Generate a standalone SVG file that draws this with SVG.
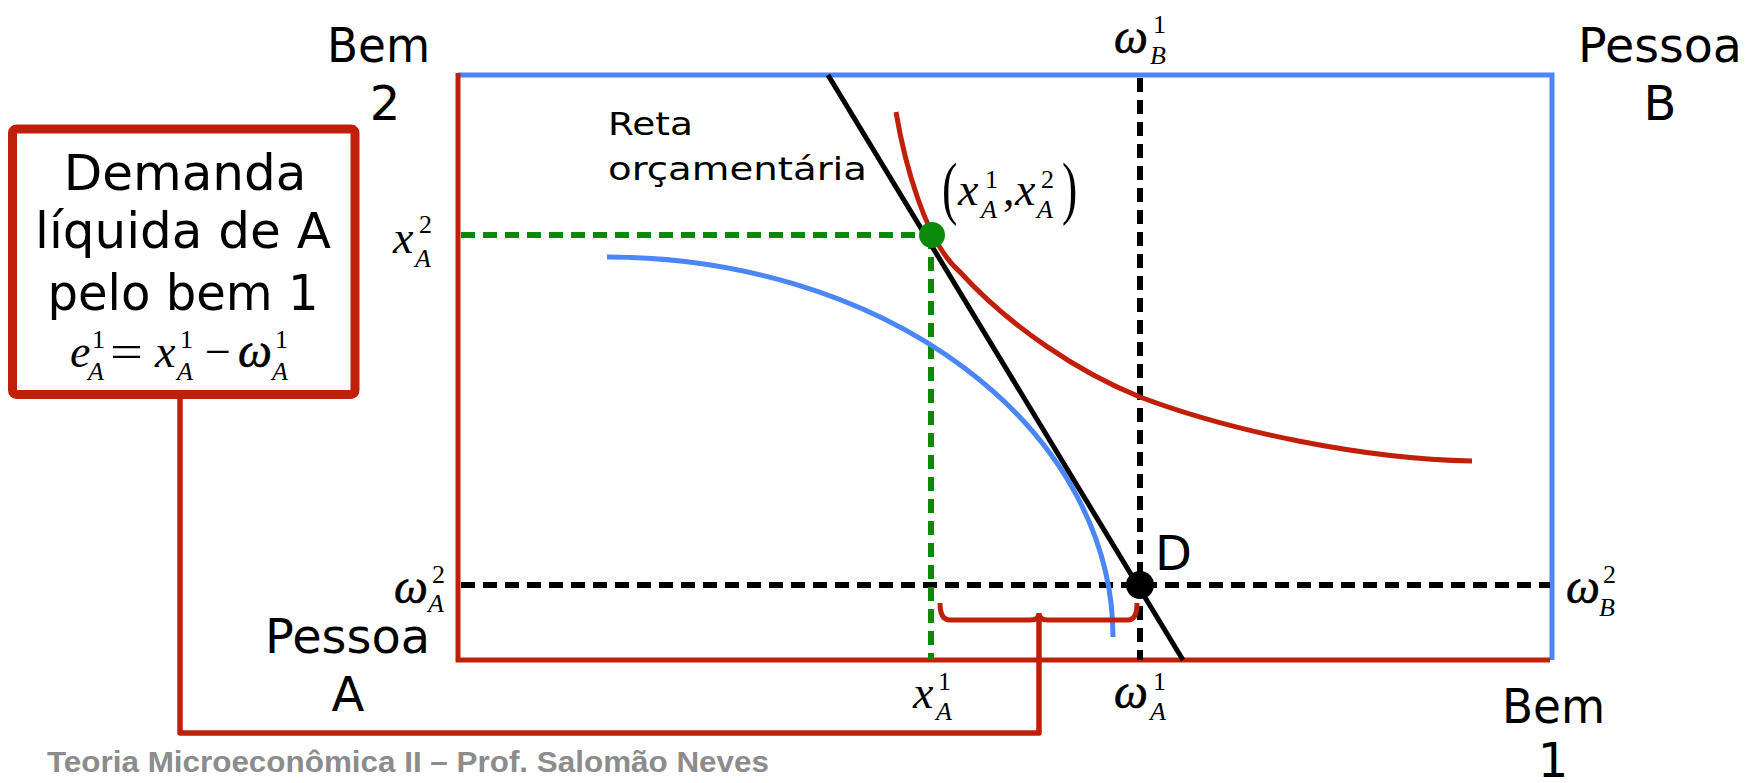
<svg xmlns="http://www.w3.org/2000/svg" width="1748" height="783" viewBox="0 0 1748 783">
<defs>
<style>
.lbl{font-family:"DejaVu Sans","Liberation Sans",sans-serif;fill:#000}
.m{font-family:"Liberation Serif","Times New Roman",serif;fill:#000}
.mi{font-family:"Liberation Serif","Times New Roman",serif;font-style:italic;fill:#000}
.big{font-size:46px}
.w{font-size:48px;stroke:#000;stroke-width:0.6}
.sc{font-size:26px}
.red{stroke:#C0200A;fill:none}
.blue{stroke:#4A86F6;fill:none}
.dashk{stroke:#000;stroke-width:6;stroke-dasharray:14 8;fill:none}
.dashg{stroke:#0A8A0A;stroke-width:6;stroke-dasharray:14 8;fill:none}
</style>
</defs>
<rect width="1748" height="783" fill="#fff"/>

<g id="axes">
<path class="blue" stroke-width="5" d="M458,75 H1552 V660"/>
<path class="red" stroke-width="5" d="M458,73 V660 H1550"/>
</g>

<g id="guides">
<path class="dashk" d="M1140,78 V660"/>
<path class="dashk" d="M461,585 H1550"/>
<path class="dashg" d="M461,235 H931"/>
<path class="dashg" d="M931,235 V660"/>
</g>

<g id="curves">
<path id="curveB" class="blue" stroke-width="5" d="M607,257 A506,380 0 0 1 1113,637"/>
<path id="budget" stroke="#000" stroke-width="5" fill="none" d="M828,75 L1183,660"/>
<path id="curveA" class="red" stroke-width="5" d="M896,112 C904,160 925,242 960,272 C1010,327 1080,373 1140,397 C1230,431 1362,459 1472,461"/>
</g>

<g id="connectors">
<path class="red" stroke-width="5" d="M940,603 Q940,620 950,620 L1030,620 Q1039,620 1039,613 Q1039,620 1048,620 L1128,620 Q1137,620 1137,603"/>
<path class="red" stroke-width="5.5" stroke-linejoin="round" d="M1039,620 V733 H180 V394"/>
</g>

<g id="points">
<circle id="optimum" cx="932" cy="235" r="13" fill="#0A8A0A"/>
<circle id="endowment" cx="1140" cy="585" r="14" fill="#000"/>
<text class="lbl" x="1155" y="570" font-size="48">D</text>
</g>

<g id="netDemandBox">
<rect x="12.5" y="129" width="342.5" height="265.5" rx="4" fill="#fff" stroke="#C0200A" stroke-width="9"/>
<text class="lbl" x="185" y="190" font-size="50" text-anchor="middle">Demanda</text>
<text class="lbl" x="183" y="248" font-size="50" text-anchor="middle">líquida de A</text>
<text class="lbl" x="183" y="310" font-size="50" text-anchor="middle" textLength="271" lengthAdjust="spacingAndGlyphs">pelo bem 1</text>
<text class="mi big" x="70" y="367">e</text>
<text class="m sc" x="92" y="348">1</text>
<text class="mi sc" x="88" y="380">A</text>
<text class="m big" x="110" y="367" textLength="33" lengthAdjust="spacingAndGlyphs">=</text>
<text class="mi big" x="155" y="367">x</text>
<text class="m sc" x="180" y="348">1</text>
<text class="mi sc" x="177" y="380">A</text>
<text class="m big" x="205" y="367">−</text>
<text class="mi w" x="238" y="367">ω</text>
<text class="m sc" x="275" y="348">1</text>
<text class="mi sc" x="272" y="380">A</text>
</g>

<g id="axisLabels">
<text class="lbl" x="327" y="62" font-size="48" textLength="103" lengthAdjust="spacingAndGlyphs">Bem</text>
<text class="lbl" x="385" y="120" font-size="48" text-anchor="middle">2</text>
<text class="lbl" x="1578" y="62" font-size="48" textLength="164" lengthAdjust="spacingAndGlyphs">Pessoa</text>
<text class="lbl" x="1660" y="120" font-size="48" text-anchor="middle">B</text>
<text class="lbl" x="265" y="653" font-size="48" textLength="165" lengthAdjust="spacingAndGlyphs">Pessoa</text>
<text class="lbl" x="348" y="711" font-size="48" text-anchor="middle">A</text>
<text class="lbl" x="1502" y="723" font-size="48" textLength="103" lengthAdjust="spacingAndGlyphs">Bem</text>
<text class="lbl" x="1553" y="777" font-size="48" text-anchor="middle">1</text>
<text class="lbl" x="608" y="135" font-size="32" textLength="85" lengthAdjust="spacingAndGlyphs">Reta</text>
<text class="lbl" x="608" y="180" font-size="32" textLength="259" lengthAdjust="spacingAndGlyphs">orçamentária</text>
</g>

<g id="mathLabels">
<text class="mi big" x="393" y="253">x</text>
<text class="m sc" x="419" y="233">2</text>
<text class="mi sc" x="415" y="267">A</text>
<text class="mi w" x="394" y="603">ω</text>
<text class="m sc" x="432" y="583">2</text>
<text class="mi sc" x="428" y="612">A</text>
<text class="mi w" x="1566" y="603">ω</text>
<text class="m sc" x="1603" y="583">2</text>
<text class="mi sc" x="1599" y="616">B</text>
<text class="mi w" x="1114" y="53">ω</text>
<text class="m sc" x="1153" y="33">1</text>
<text class="mi sc" x="1150" y="64">B</text>
<text class="mi big" x="913" y="708">x</text>
<text class="m sc" x="938" y="690">1</text>
<text class="mi sc" x="936" y="720">A</text>
<text class="mi w" x="1114" y="708">ω</text>
<text class="m sc" x="1153" y="690">1</text>
<text class="mi sc" x="1150" y="720">A</text>
<text class="m" font-size="46" transform="translate(942,211) scale(1,1.5)">(</text>
<text class="mi big" x="958" y="205">x</text>
<text class="m sc" x="985" y="188">1</text>
<text class="mi sc" x="981" y="218">A</text>
<text class="m big" x="1003" y="205">,</text>
<text class="mi big" x="1015" y="205">x</text>
<text class="m sc" x="1041" y="188">2</text>
<text class="mi sc" x="1037" y="218">A</text>
<text class="m" font-size="46" transform="translate(1062,211) scale(1,1.5)">)</text>
</g>

<text id="footer" x="47" y="772" font-family="'Liberation Sans',Arial,sans-serif" font-weight="bold" font-size="29" fill="#8C8C8C" textLength="722" lengthAdjust="spacingAndGlyphs">Teoria Microeconômica II – Prof. Salomão Neves</text>
</svg>
